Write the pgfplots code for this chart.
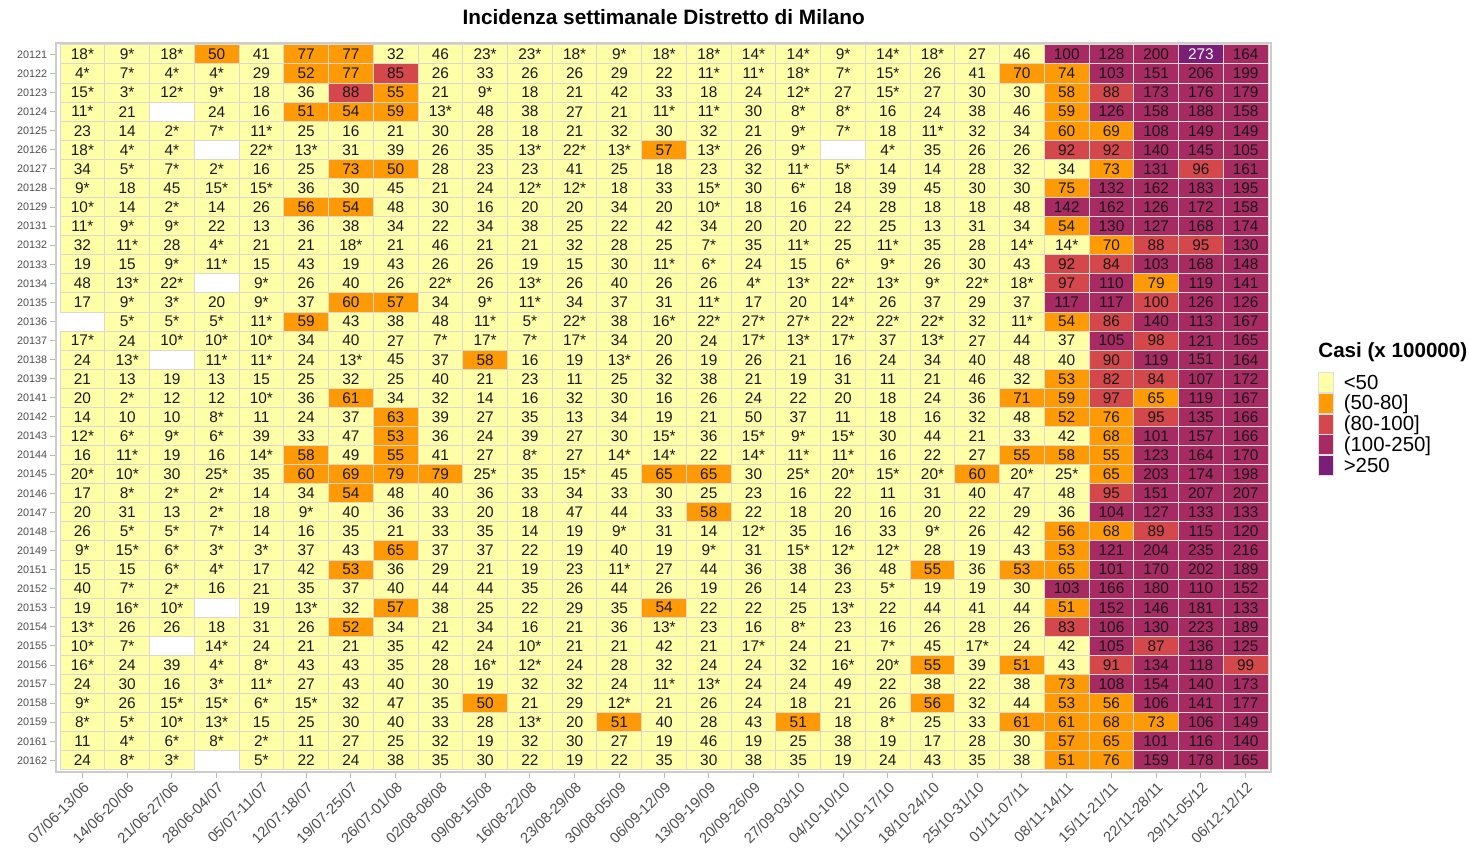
\documentclass[border=0pt]{standalone}
\usepackage{fontspec}
\setmainfont{Liberation Sans}
\usepackage{pgfplots}
\usepackage{pgfplotstable}
\pgfplotsset{compat=1.18}

\definecolor{cY}{HTML}{FFFFA8}
\definecolor{cO}{HTML}{FD9A05}
\definecolor{cR}{HTML}{D4474A}
\definecolor{cM}{HTML}{A82A62}
\definecolor{cP}{HTML}{7A1E78}
\definecolor{cellline}{HTML}{DCD8D0}
\definecolor{tickgrey}{HTML}{4D4D4D}

% weekly incidence; negative value = value marked with * ; 0 = empty cell
\pgfplotstableread{
c0 c1 c2 c3 c4 c5 c6 c7 c8 c9 c10 c11 c12 c13 c14 c15 c16 c17 c18 c19 c20 c21 c22 c23 c24 c25 c26
-18 -9 -18 50 41 77 77 32 46 -23 -23 -18 -9 -18 -18 -14 -14 -9 -14 -18 27 46 100.4 128 200 273 164
-4 -7 -4 -4 29 52 77 85 26 33 26 26 29 22 -11 -11 -18 -7 -15 26 41 70 74 103 151 206 199
-15 -3 -12 -9 18 36 88 55 21 -9 18 21 42 33 18 24 -12 27 -15 27 30 30 58 88 173 176 179
-11 21 0 24 16 51 54 59 -13 48 38 27 21 -11 -11 30 -8 -8 16 24 38 46 59 126 158 188 158
23 14 -2 -7 -11 25 16 21 30 28 18 21 32 30 32 21 -9 -7 18 -11 32 34 60 69 108 149 149
-18 -4 -4 0 -22 -13 31 39 26 35 -13 -22 -13 57 -13 26 -9 0 -4 35 26 26 92 92 140 145 105
34 -5 -7 -2 16 25 73 50 28 23 23 41 25 18 23 32 -11 -5 14 14 28 32 34 73 131 96 161
-9 18 45 -15 -15 36 30 45 21 24 -12 -12 18 33 -15 30 -6 18 39 45 30 30 75 132 162 183 195
-10 14 -2 14 26 56 54 48 30 16 20 20 34 20 -10 18 16 24 28 18 18 48 142 162 126 172 158
-11 -9 -9 22 13 36 38 34 22 34 38 25 22 42 34 20 20 22 25 13 31 34 54 130 127 168 174
32 -11 28 -4 21 21 -18 21 46 21 21 32 28 25 -7 35 -11 25 -11 35 28 -14 -14 70 88 95 130
19 15 -9 -11 15 43 19 43 26 26 19 15 30 -11 -6 24 15 -6 -9 26 30 43 92 84 103 168 148
48 -13 -22 0 -9 26 40 26 -22 26 -13 26 40 26 26 -4 -13 -22 -13 -9 -22 -18 97 110 79 119 141
17 -9 -3 20 -9 37 60 57 34 -9 -11 34 37 31 -11 17 20 -14 26 37 29 37 117 117 99.8 126 126
0 -5 -5 -5 -11 59 43 38 48 -11 -5 -22 38 -16 -22 -27 -27 -22 -22 -22 32 -11 54 86 140 113 167
-17 24 -10 -10 -10 34 40 27 -7 -17 -7 -17 34 20 24 -17 -13 -17 37 -13 27 44 37 105 98 121 165
24 -13 0 -11 -11 24 -13 45 37 58 16 19 -13 26 19 26 21 16 24 34 40 48 40 90 119 151 164
21 13 19 13 15 25 32 25 40 21 23 11 25 32 38 21 19 31 11 21 46 32 53 82 84 107 172
20 -2 12 12 -10 36 61 34 32 14 16 32 30 16 26 24 22 20 18 24 36 71 59 97 65 119 167
14 10 10 -8 11 24 37 63 39 27 35 13 34 19 21 49.8 37 11 18 16 32 48 52 76 95 135 166
-12 -6 -9 -6 39 33 47 53 36 24 39 27 30 -15 36 -15 -9 -15 30 44 21 33 42 68 101 157 166
16 -11 19 16 -14 58 49 55 41 27 -8 27 -14 -14 22 -14 -11 -11 16 22 27 55 58 55 123 164 170
-20 -10 30 -25 35 60 69 79 79 -25 35 -15 45 65 65 30 -25 -20 -15 -20 60 -20 -25 65 203 174 198
17 -8 -2 -2 14 34 54 48 40 36 33 34 33 30 25 23 16 22 11 31 40 47 48 95 151 207 207
20 31 13 -2 18 -9 40 36 33 20 18 47 44 33 58 22 18 20 16 20 22 29 36 104 127 133 133
26 -5 -5 -7 14 16 35 21 33 35 14 19 -9 31 14 -12 35 16 33 -9 26 42 56 68 89 115 120
-9 -15 -6 -3 -3 37 43 65 37 37 22 19 40 19 -9 31 -15 -12 -12 28 19 43 53 121 204 235 216
15 15 -6 -4 17 42 53 36 29 21 19 23 -11 27 44 36 38 36 48 55 36 53 65 101 170 202 189
40 -7 -2 16 21 35 37 40 44 44 35 26 44 26 19 26 14 23 -5 19 19 30 103 166 180 110 152
19 -16 -10 0 19 -13 32 57 38 25 22 29 35 54 22 22 25 -13 22 44 41 44 51 152 146 181 133
-13 26 26 18 31 26 52 34 21 34 16 21 36 -13 23 16 -8 23 16 26 28 26 83 106 130 223 189
-10 -7 0 -14 24 21 21 35 42 24 -10 21 21 42 21 -17 24 21 -7 45 -17 24 42 105 87 136 125
-16 24 39 -4 -8 43 43 35 28 -16 -12 24 28 32 24 24 32 -16 -20 55 39 51 43 91 134 118 99
24 30 16 -3 -11 27 43 40 30 19 32 32 24 -11 -13 24 24 49 22 38 22 38 73 108 154 140 173
-9 26 -15 -15 -6 -15 32 47 35 50 21 29 -12 21 26 24 18 21 26 56 32 44 53 56 106 141 177
-8 -5 -10 -13 15 25 30 40 33 28 -13 20 51 40 28 43 51 18 -8 25 33 61 61 68 73 106 149
11 -4 -6 -8 -2 11 27 25 32 19 32 30 27 19 46 19 25 38 19 17 28 30 57 65 101 116 140
24 -8 -3 0 -5 22 24 38 35 30 22 19 22 35 30 38 35 19 24 43 35 38 51 76 159 178 165
}\incid

\pgfdeclareplotmark{cell}{%
  \pgfpathrectangle{\pgfpoint{-11.185pt}{-4.77pt}}{\pgfpoint{22.37pt}{9.54pt}}%
  \pgfusepathqfillstroke}

\newcommand\celllabel{%
  \pgfmathparse{abs(\rawv)}%
  \pgfmathprintnumber[fixed,precision=0,assume math mode=true]{\pgfmathresult}%
  \ifdim\rawv pt<0pt *\fi}

% #1 column, #2 fill colour, #3:#4 class range, #5 text colour
\newcommand\cellplot[5]{%
  \addplot[forget plot, only marks, mark=cell,
    mark options={fill=#2, draw=cellline, line width=0.5pt},
    restrict expr to domain={abs(\thisrow{c#1})}{#3:#4},
    visualization depends on={\thisrow{c#1}\as\rawv},
    nodes near coords={\celllabel}, nodes near coords align={center},
    every node near coord/.append style={font=\fontsize{7.7}{8}\selectfont, text=#5, inner sep=0pt, anchor=center}]
    table[x expr={#1}, y expr={37-\coordindex}]{\incid};}

\begin{document}
\begin{tikzpicture}
\begin{axis}[
  x=22.37pt, y=9.54pt,
  xmin=-0.58, xmax=26.566, ymin=-0.6, ymax=37.6,
  clip=false,
  xtick={0,...,26}, ytick={0,...,37},
  xticklabels={07/06-13/06,14/06-20/06,21/06-27/06,28/06-04/07,05/07-11/07,12/07-18/07,19/07-25/07,26/07-01/08,02/08-08/08,09/08-15/08,16/08-22/08,23/08-29/08,30/08-05/09,06/09-12/09,13/09-19/09,20/09-26/09,27/09-03/10,04/10-10/10,11/10-17/10,18/10-24/10,25/10-31/10,01/11-07/11,08/11-14/11,15/11-21/11,22/11-28/11,29/11-05/12,06/12-12/12},
  yticklabels={20162,20161,20159,20158,20157,20156,20155,20154,20153,20152,20151,20149,20148,20147,20146,20145,20144,20143,20142,20141,20139,20138,20137,20136,20135,20134,20133,20132,20131,20129,20128,20127,20126,20125,20124,20123,20122,20121},
  xtick pos=left, ytick pos=left, tick align=outside,
  major tick length=3pt,
  tick style={draw=gray!55, line width=0.5pt},
  axis line style={draw=gray!40, line width=1pt},
  xticklabel style={rotate=45, anchor=north east, font=\fontsize{7.4}{8}\selectfont, text=tickgrey, inner sep=1pt},
  yticklabel style={font=\fontsize{5.4}{6}\selectfont, text=tickgrey, inner sep=1.5pt},
  title={Incidenza settimanale Distretto di Milano},
  title style={at={(0.5,1)}, anchor=center, yshift=7pt, font=\bfseries\fontsize{10.4}{12}\selectfont},
  legend style={at={(1.0387,0.5487)}, anchor=north west, draw=none, fill=none,
    inner sep=0pt, outer sep=0pt, row sep=0pt, column sep=5pt,
    font=\fontsize{10.2}{10}\selectfont,
    nodes={inner sep=0pt, text height=8.4pt, text depth=1.6pt}},
  legend cell align=left,
]
\pgfplotsinvokeforeach{0,...,26}{
  \cellplot{#1}{cY}{0.5}{49.99}{black!90}
  \cellplot{#1}{cO}{49.99}{80.5}{black!90}
  \cellplot{#1}{cR}{80.5}{100.2}{black!90}
  \cellplot{#1}{cM}{100.2}{250.5}{black!90}
  \cellplot{#1}{cP}{250.5}{1000}{white}
}
\addlegendimage{legend image code/.code={\draw[fill=cY,draw=black!12] (0pt,-5pt) rectangle (7.5pt,5pt);}}
\addlegendentry{<50}
\addlegendimage{legend image code/.code={\draw[fill=cO,draw=black!12] (0pt,-5pt) rectangle (7.5pt,5pt);}}
\addlegendentry{(50-80]}
\addlegendimage{legend image code/.code={\draw[fill=cR,draw=black!12] (0pt,-5pt) rectangle (7.5pt,5pt);}}
\addlegendentry{(80-100]}
\addlegendimage{legend image code/.code={\draw[fill=cM,draw=black!12] (0pt,-5pt) rectangle (7.5pt,5pt);}}
\addlegendentry{(100-250]}
\addlegendimage{legend image code/.code={\draw[fill=cP,draw=black!12] (0pt,-5pt) rectangle (7.5pt,5pt);}}
\addlegendentry{>250}
\node[anchor=west, inner sep=0pt, font=\bfseries\fontsize{10.3}{12}\selectfont] at (axis description cs:1.0387,0.5761) {Casi (x 100000)};
\end{axis}
\pgfresetboundingbox
\path[use as bounding box] ([shift={(-28.25pt,-42pt)}]current axis.south west) rectangle ([shift={(99pt,21.5pt)}]current axis.north east);
\end{tikzpicture}
\end{document}
